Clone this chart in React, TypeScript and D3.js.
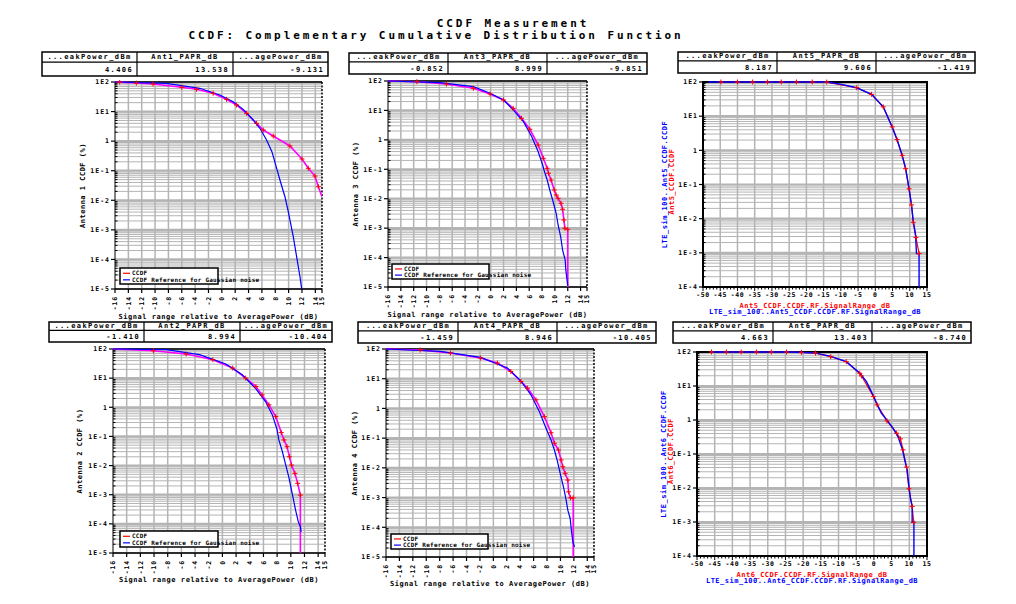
import * as d3 from 'd3';
import { ReactElement } from 'react';

// ─ Data ─────────────────────────────────────────────────────────────────────
// Measured CCDF (dB relative to average power, percent)
const ant1Db = [-16, -15.3, -12.8, -10.3, -6.0, -3.8, -1.3, 0.7, 2.2, 3.7, 5.2, 6.2, 7.7, 10.2, 12.0, 12.95, 13.95, 14.45, 15];
const ant1Pct = [100, 99, 92, 86, 66.2, 56.6, 41.5, 26.0, 16.7, 8.74, 4.0, 2.38, 1.49, 0.685, 0.249, 0.121, 0.066, 0.0288, 0.0132];
const ant3Db = [-16, -11.5, -6.9, -2.7, -0.1, 2.0, 3.5, 4.8, 6.1, 7.4, 8.2, 8.8, 9.0, 9.4, 9.9, 10.2, 10.5, 10.95, 11.2, 11.4, 11.55, 12.0, 12.0];
const ant3Pct = [100, 94.7, 79.1, 56.5, 36.1, 22.6, 11.8, 5.4, 2.29, 0.668, 0.236, 0.108, 0.0731, 0.0433, 0.0198, 0.0134, 0.0103, 0.00698, 0.00437, 0.00189, 0.00099, 0.00091, 0.00001];
const ant2Db = [-16, -10.1, -5.3, -1.4, 1.5, 3.4, 4.9, 5.8, 6.8, 7.8, 8.6, 9.0, 9.45, 9.8, 10.1, 10.6, 11.0, 11.4, 11.4];
const ant2Pct = [100, 87.4, 67.3, 42.8, 22.2, 10.0, 5.16, 2.67, 1.21, 0.48, 0.137, 0.0757, 0.0445, 0.0201, 0.0104, 0.0054, 0.00245, 0.00097, 0.00001];
const ant4Db = [-16, -10.9, -6.4, -1.9, 0.6, 2.6, 4.1, 5.1, 6.35, 7.6, 8.6, 9.1, 9.7, 10.1, 10.35, 10.7, 11.1, 11.2, 11.5, 11.9, 11.9];
const ant4Pct = [100, 92.5, 73.3, 49.6, 33.7, 17.5, 8.07, 4.83, 1.95, 0.531, 0.152, 0.0673, 0.0399, 0.0184, 0.0109, 0.00653, 0.00388, 0.00156, 0.00098, 0.00098, 0.00001];

// Gaussian noise reference curves
const ref1Db = [-16, -8.3, -3.3, -0.3, 1.7, 3.2, 4.7, 5.7, 6.7, 7.5, 8.0, 8.7, 9.45, 9.95, 10.7, 11.2, 11.7, 11.96];
const ref1Pct = [100, 90.3, 61.2, 36.3, 21.6, 11.9, 5.19, 2.72, 1.09, 0.44, 0.178, 0.0486, 0.0132, 0.00411, 0.00059, 0.000124, 0.000026, 0.00001];
const ref3Db = [-16, -7.9, -2.7, -0.1, 2.0, 3.5, 5.1, 6.4, 7.4, 8.1, 8.3, 8.8, 9.2, 9.65, 10.2, 10.5, 10.9, 11.2, 11.6, 11.7, 12.0];
const ref3Pct = [100, 87.5, 64, 38.2, 22.6, 10.4, 4.14, 1.28, 0.396, 0.14, 0.0946, 0.0433, 0.0198, 0.00906, 0.0032, 0.00128, 0.00051, 0.00018, 0.000083, 0.000038, 0.000011];
const ref2Db = [-16, -8.2, -3.35, 0.5, 2.9, 4.9, 6.3, 7.3, 8.0, 8.25, 8.7, 9.2, 9.7, 10.2, 10.7, 11.1, 11.4, 11.5];
const ref2Pct = [100, 94.6, 63.7, 30.5, 13.1, 4.31, 1.57, 0.548, 0.167, 0.0757, 0.0343, 0.0119, 0.00413, 0.00111, 0.000295, 0.000117, 0.00008, 0.000053];
const ref4Db = [-16, -7.9, -1.9, 2.1, 4.1, 5.6, 6.85, 7.85, 8.6, 9.1, 9.5, 9.85, 10.2, 10.5, 10.85, 11.1, 11.45, 11.6, 11.85, 12.1];
const ref4Pct = [100, 83, 52.1, 22.9, 8.51, 2.87, 0.783, 0.216, 0.0869, 0.0399, 0.0184, 0.00844, 0.00388, 0.00204, 0.00082, 0.000377, 0.000198, 0.000091, 0.000032, 0.000022];

// LTE simulation vs measurement (Ant5, Ant6)
const lte5Db = [-48.4, -14.1, -9.8, -5.4, -1.1, 2.3, 4.9, 6.3, 7.8, 8.8, 9.8, 10.5, 11.0, 11.65, 11.95, 12.7, 12.7];
const lte5Pct = [99.99, 99.5, 85.5, 67.9, 43.5, 18.8, 4.84, 2.07, 0.713, 0.29, 0.0748, 0.0253, 0.00874, 0.00355, 0.00095, 0.00095, 0.0001];
const mk5Db = [-44.8, -40.0, -35.6, -31.3, -27.3, -22.9, -18.3, -14.1, -5.4, -1.1, 2.3, 4.9, 6.3, 7.8, 8.8, 9.8, 10.5, 11.0, 11.8, 12.7];
const mk5Pct = [99.99, 99.99, 99.99, 99.99, 99.99, 99.99, 99.9, 99.5, 67.9, 43.5, 18.8, 4.84, 2.07, 0.713, 0.29, 0.0748, 0.0253, 0.0078, 0.0028, 0.00095];
const lte6Db = [-45.9, -23.8, -20.0, -16.3, -12.0, -7.8, -4.0, -2.1, -0.3, 1.2, 2.1, 4.0, 5.4, 6.8, 7.4, 8.1, 8.7, 9.4, 9.9, 10.3, 10.8, 10.8, 11.3, 11.3];
const lte6Pct = [99.99, 99.9, 97, 93, 72.8, 51.9, 23.7, 13.4, 5.47, 2.48, 1.58, 0.9, 0.575, 0.326, 0.213, 0.133, 0.0675, 0.0343, 0.0111, 0.00507, 0.00287, 0.00098, 0.00098, 0.0001];
const mk6Db = [-45.9, -41.7, -37.5, -33.2, -29.0, -24.7, -20.5, -16.5, -12.2, -7.8, -4.0, -3.5, -0.1, 0.9, 3.7, 6.4, 7.5, 8.2, 9.2, 9.9, 10.8, 11.25];
const mk6Pct = [99.99, 99.99, 99.99, 99.99, 99.99, 99.99, 97.5, 93, 72.8, 51.9, 23.7, 19.7, 4.87, 2.78, 0.94, 0.41, 0.279, 0.133, 0.0412, 0.0095, 0.00287, 0.00098];

// Ticks
const gaussXTicks = [-16, -14, -12, -10, -8, -6, -4, -2, 0, 2, 4, 6, 8, 10, 12, 14, 15];
const lteXTicks = [-50, -45, -40, -35, -30, -25, -20, -15, -10, -5, 0, 5, 10, 15];
const decades = [1e-5, 1e-4, 1e-3, 1e-2, 1e-1, 1, 10, 100];
const decadeLabels = ['1E-5', '1E-4', '1E-3', '1E-2', '1E-1', '1', '1E1', '1E2'];

// Tables
const tableHeaders = (ant: string) => ['...eakPower_dBm', `${ant}_PAPR_dB`, '...agePower_dBm'];
const ant1Stats = ['4.406', '13.538', '-9.131'];
const ant3Stats = ['-0.852', '8.999', '-9.851'];
const ant5Stats = ['8.187', '9.606', '-1.419'];
const ant2Stats = ['-1.410', '8.994', '-10.404'];
const ant4Stats = ['-1.459', '8.946', '-10.405'];
const ant6Stats = ['4.663', '13.403', '-8.740'];

// ─ Styles ───────────────────────────────────────────────────────────────────
const FONT = '"DejaVu Sans Mono", monospace';
const GRID = '#b4b4b4';
const BLUE = '#0000ff';
const RED = '#ff0000';
const MAGENTA = '#ff00ff';

interface Box { x: number; y: number; w: number; h: number; }
type Pt = [number, number];

const pairs = (a: number[], b: number[]): Pt[] => a.map((v, i) => [v, b[i]] as Pt);
const isDecade = (v: number) => Math.abs(Math.log10(v) - Math.round(Math.log10(v))) < 1e-6;

// ─ Table ────────────────────────────────────────────────────────────────────
const StatTable = ({ box, cols, headers, values }: { box: Box; cols: number[]; headers: string[]; values: string[] }): ReactElement => {
  const hh = box.h * 0.42;
  return (
    <g fontFamily={FONT} fontWeight="bold" fontSize={7} letterSpacing={1.4}>
      <rect x={box.x} y={box.y} width={box.w} height={box.h} fill="#fff" stroke="#000" strokeWidth={1.5} />
      <line x1={box.x} x2={box.x + box.w} y1={box.y + hh} y2={box.y + hh} stroke="#000" strokeWidth={1.2} />
      {cols.slice(1, -1).map(c => (
        <line key={c} x1={c} x2={c} y1={box.y} y2={box.y + box.h} stroke="#000" strokeWidth={1.2} />
      ))}
      {headers.map((h, i) => (
        <text key={h} x={(cols[i] + cols[i + 1]) / 2} y={box.y + hh - 2.8} textAnchor="middle">{h}</text>
      ))}
      {values.map((v, i) => (
        <text key={i} x={cols[i + 1] - 4} y={box.y + hh + (box.h - hh) / 2 + 2.6} textAnchor="end">{v}</text>
      ))}
    </g>
  );
};

// ─ Log grid shared ──────────────────────────────────────────────────────────
const LogGrid = ({ plot, y, minorTicks }: { plot: Box; y: d3.ScaleLogarithmic<number, number>; minorTicks: number[] }): ReactElement => (
  <g>
    {minorTicks.map((v, i) => (
      <line key={i} x1={plot.x} x2={plot.x + plot.w} y1={y(v)} y2={y(v)}
        stroke={GRID} strokeWidth={isDecade(v) ? 2.2 : 1} />
    ))}
  </g>
);

// ─ Gaussian comparison panel ────────────────────────────────────────────────
interface GaussPanelProps {
  id: string;
  table: Box; cols: number[]; headers: string[]; values: string[];
  plot: Box; legend: Box;
  measDb: number[]; measPct: number[]; refDb: number[]; refPct: number[];
  yLabel: string; yLabelX: number; xTitleY: number;
}

const GaussPanel = (p: GaussPanelProps): ReactElement => {
  const { plot, legend } = p;
  const x = d3.scaleLinear().domain([-16, 15]).range([plot.x, plot.x + plot.w]);
  const y = d3.scaleLog().domain([1e-5, 100]).range([plot.y + plot.h, plot.y]);
  const yTicks = y.ticks();
  const line = d3.line<Pt>().x(d => x(d[0])).y(d => y(d[1]));
  const meas = pairs(p.measDb, p.measPct);
  const ref = pairs(p.refDb, p.refPct);
  const bottom = plot.y + plot.h;
  const right = plot.x + plot.w;

  return (
    <g>
      <StatTable box={p.table} cols={p.cols} headers={p.headers} values={p.values} />
      <defs>
        <clipPath id={p.id}><rect x={plot.x} y={plot.y - 2} width={plot.w} height={plot.h + 4} /></clipPath>
      </defs>
      <rect x={plot.x} y={plot.y} width={plot.w} height={plot.h} fill="#fff" />
      <LogGrid plot={plot} y={y} minorTicks={yTicks} />
      {gaussXTicks.slice(1, -1).map(t => (
        <line key={t} x1={x(t)} x2={x(t)} y1={plot.y} y2={bottom} stroke={GRID} strokeWidth={1.5} />
      ))}
      {/* frame */}
      <line x1={plot.x} x2={right} y1={plot.y} y2={plot.y} stroke="#000" strokeWidth={1.5} />
      <line x1={plot.x} x2={plot.x} y1={plot.y} y2={bottom} stroke="#000" strokeWidth={1} />
      <line x1={right} x2={right} y1={plot.y} y2={bottom} stroke="#000" strokeWidth={1.5} strokeDasharray="2,1.5" />
      <line x1={plot.x} x2={right} y1={bottom} y2={bottom} stroke="#000" strokeWidth={1.5} />
      {yTicks.filter(v => !isDecade(v)).map((v, i) => (
        <line key={i} x1={plot.x} x2={plot.x + 2.5} y1={y(v)} y2={y(v)} stroke="#000" strokeWidth={1} />
      ))}
      {/* curves */}
      <g clipPath={`url(#${p.id})`}>
        <path d={line(meas) ?? ''} fill="none" stroke={MAGENTA} strokeWidth={1.6} />
        <path d={line(ref) ?? ''} fill="none" stroke={BLUE} strokeWidth={1.2} />
        {meas.slice(1, -1).map((d, i) => (
          <path key={i} d={`M${x(d[0]) - 2.5},${y(d[1])}h5M${x(d[0])},${y(d[1]) - 2.5}v5`} stroke={RED} strokeWidth={1} />
        ))}
      </g>
      {/* y axis */}
      <g fontFamily={FONT} fontWeight="bold" fontSize={6.5} letterSpacing={1}>
        {decades.map((d, i) => (
          <g key={d}>
            <line x1={plot.x - 4} x2={plot.x} y1={y(d)} y2={y(d)} stroke="#000" strokeWidth={1.2} />
            <text x={plot.x - 5} y={y(d)} dy="0.35em" textAnchor="end">{decadeLabels[i]}</text>
          </g>
        ))}
      </g>
      {/* x axis */}
      <g fontFamily={FONT} fontWeight="bold" fontSize={6.5} letterSpacing={0.8}>
        {gaussXTicks.map(t => (
          <g key={t}>
            <line x1={x(t)} x2={x(t)} y1={bottom} y2={bottom + 4} stroke="#000" strokeWidth={1.2} />
            <text transform={`translate(${x(t)},${bottom + 7}) rotate(-90)`} dy="0.35em" textAnchor="end">{t}</text>
          </g>
        ))}
      </g>
      <text x={plot.x + plot.w / 2} y={p.xTitleY} textAnchor="middle" fontFamily={FONT} fontWeight="bold"
        fontSize={7} letterSpacing={0.55}>Signal range relative to AveragePower (dB)</text>
      <text transform={`translate(${p.yLabelX},${plot.y + plot.h / 2}) rotate(-90)`} dy="0.35em" textAnchor="middle"
        fontFamily={FONT} fontWeight="bold" fontSize={7} letterSpacing={0.5}>{p.yLabel}</text>
      {/* legend */}
      <g fontFamily={FONT} fontWeight="bold" fontSize={6} letterSpacing={0.25}>
        <rect x={legend.x} y={legend.y} width={legend.w} height={legend.h} fill="#fff" stroke="#000" strokeWidth={1.5} />
        <line x1={legend.x + 3} x2={legend.x + 10} y1={legend.y + legend.h * 0.33} y2={legend.y + legend.h * 0.33} stroke={RED} strokeWidth={1.2} />
        <line x1={legend.x + 3} x2={legend.x + 10} y1={legend.y + legend.h * 0.74} y2={legend.y + legend.h * 0.74} stroke={BLUE} strokeWidth={1.2} />
        <text x={legend.x + 12} y={legend.y + legend.h * 0.33} dy="0.35em">CCDF</text>
        <text x={legend.x + 12} y={legend.y + legend.h * 0.74} dy="0.35em">CCDF Reference for Gaussian noise</text>
      </g>
    </g>
  );
};

// ─ LTE sim vs measurement panel ─────────────────────────────────────────────
interface LtePanelProps {
  id: string; ant: string;
  table: Box; cols: number[]; values: string[];
  plot: Box;
  lteDb: number[]; ltePct: number[]; mkDb: number[]; mkPct: number[];
  blueLabelX: number; redLabelX: number;
}

const LtePanel = (p: LtePanelProps): ReactElement => {
  const { plot } = p;
  const x = d3.scaleLinear().domain([-50, 15]).range([plot.x, plot.x + plot.w]);
  const y = d3.scaleLog().domain([1e-4, 100]).range([plot.y + plot.h, plot.y]);
  const yTicks = y.ticks();
  const line = d3.line<Pt>().x(d => x(d[0])).y(d => y(d[1]));
  const lte = pairs(p.lteDb, p.ltePct);
  const mk = pairs(p.mkDb, p.mkPct);
  const bottom = plot.y + plot.h;
  const minorX = d3.range(-50, 16, 1);

  return (
    <g>
      <StatTable box={p.table} cols={p.cols} headers={tableHeaders(p.ant)} values={p.values} />
      <defs>
        <clipPath id={p.id}><rect x={plot.x} y={plot.y - 3} width={plot.w} height={plot.h + 3} /></clipPath>
      </defs>
      <rect x={plot.x} y={plot.y} width={plot.w} height={plot.h} fill="#fff" />
      <LogGrid plot={plot} y={y} minorTicks={yTicks} />
      {lteXTicks.slice(1, -1).map(t => (
        <line key={t} x1={x(t)} x2={x(t)} y1={plot.y} y2={bottom} stroke={GRID} strokeWidth={1.5} />
      ))}
      <rect x={plot.x} y={plot.y} width={plot.w} height={plot.h} fill="none" stroke="#000" strokeWidth={2} />
      {yTicks.filter(v => !isDecade(v)).map((v, i) => (
        <line key={i} x1={plot.x} x2={plot.x + 2.5} y1={y(v)} y2={y(v)} stroke="#000" strokeWidth={1} />
      ))}
      {minorX.map(t => (
        <line key={t} x1={x(t)} x2={x(t)} y1={bottom} y2={bottom + (t % 5 === 0 ? 4 : 2.5)} stroke="#000" strokeWidth={1} />
      ))}
      <g clipPath={`url(#${p.id})`}>
        <path d={line(mk) ?? ''} fill="none" stroke={RED} strokeWidth={1.2} />
        <path d={line(lte) ?? ''} fill="none" stroke={BLUE} strokeWidth={1.4} />
        {mk.map((d, i) => (
          <path key={i} d={`M${x(d[0]) - 2.5},${y(d[1])}h5M${x(d[0])},${y(d[1]) - 2.5}v5`} stroke={RED} strokeWidth={1} />
        ))}
      </g>
      <g fontFamily={FONT} fontWeight="bold" fontSize={6.5} letterSpacing={1}>
        {decades.filter(d => d >= 1e-4).map(d => (
          <g key={d}>
            <line x1={plot.x - 4} x2={plot.x} y1={y(d)} y2={y(d)} stroke="#000" strokeWidth={1.2} />
            <text x={plot.x - 5} y={y(d)} dy="0.35em" textAnchor="end">{decadeLabels[decades.indexOf(d)]}</text>
          </g>
        ))}
        {lteXTicks.map(t => (
          <text key={t} x={x(t)} y={bottom + 10} textAnchor="middle" letterSpacing={0.6}>{t}</text>
        ))}
      </g>
      <g fontFamily={FONT} fontWeight="bold" fontSize={7} letterSpacing={0.5} textAnchor="middle">
        <text x={plot.x + plot.w / 2} y={bottom + 20.5} fill={RED}>{`${p.ant}_CCDF.CCDF.RF.SignalRange_dB`}</text>
        <text x={plot.x + plot.w / 2} y={bottom + 27} fill={BLUE}>{`LTE_sim_100..${p.ant}_CCDF.CCDF.RF.SignalRange_dB`}</text>
        <text transform={`translate(${p.blueLabelX},${plot.y + plot.h / 2}) rotate(-90)`} dy="0.35em" fill={BLUE}>{`LTE_sim_100..${p.ant}_CCDF.CCDF`}</text>
        <text transform={`translate(${p.redLabelX},${plot.y + plot.h / 2 - 3}) rotate(-90)`} dy="0.35em" fill={RED}>{`${p.ant}_CCDF.CCDF`}</text>
      </g>
    </g>
  );
};

// ─ App ──────────────────────────────────────────────────────────────────────
export default function App(): ReactElement {
  return (
    <svg width={1016} height={604} style={{ position: 'absolute', left: 0, top: 0, background: '#fff' }}>
      <rect width={1016} height={604} fill="#fff" />
      <g fontFamily={FONT} fontWeight="bold" fontSize={11} letterSpacing={2.9}>
        <text x={513} y={27} textAnchor="middle">CCDF Measurement</text>
        <text x={436} y={39} textAnchor="middle">CCDF: Complementary Cumulative Distribution Function</text>
      </g>

      <GaussPanel id="c1" table={{ x: 42, y: 52, w: 286, h: 24 }} cols={[42, 137, 233, 328]}
        headers={tableHeaders('Ant1')} values={ant1Stats}
        plot={{ x: 115, y: 82, w: 207, h: 207 }} legend={{ x: 120, y: 268, w: 98, h: 16 }}
        measDb={ant1Db} measPct={ant1Pct} refDb={ref1Db} refPct={ref1Pct}
        yLabel="Antenna 1 CCDF (%)" yLabelX={83} xTitleY={319} />

      <GaussPanel id="c2" table={{ x: 349, y: 53, w: 298, h: 21 }} cols={[349, 448, 547, 647]}
        headers={tableHeaders('Ant3')} values={ant3Stats}
        plot={{ x: 388, y: 81, w: 199, h: 206 }} legend={{ x: 392, y: 264, w: 97, h: 15 }}
        measDb={ant3Db} measPct={ant3Pct} refDb={ref3Db} refPct={ref3Pct}
        yLabel="Antenna 3 CCDF (%)" yLabelX={356} xTitleY={317} />

      <LtePanel id="c3" ant="Ant5" table={{ x: 678, y: 52, w: 297, h: 21 }} cols={[678, 777, 876, 975]}
        values={ant5Stats} plot={{ x: 703, y: 82, w: 224, h: 205 }}
        lteDb={lte5Db} ltePct={lte5Pct} mkDb={mk5Db} mkPct={mk5Pct}
        blueLabelX={665} redLabelX={672} />

      <GaussPanel id="c4" table={{ x: 49, y: 322, w: 283, h: 20 }} cols={[49, 144, 240, 332]}
        headers={tableHeaders('Ant2')} values={ant2Stats}
        plot={{ x: 113, y: 349, w: 212, h: 204 }} legend={{ x: 120, y: 531, w: 98, h: 16 }}
        measDb={ant2Db} measPct={ant2Pct} refDb={ref2Db} refPct={ref2Pct}
        yLabel="Antenna 2 CCDF (%)" yLabelX={80} xTitleY={582} />

      <GaussPanel id="c5" table={{ x: 358, y: 322, w: 298, h: 21 }} cols={[358, 458, 557, 656]}
        headers={tableHeaders('Ant4')} values={ant4Stats}
        plot={{ x: 386, y: 349, w: 208, h: 208 }} legend={{ x: 391, y: 534, w: 97, h: 15 }}
        measDb={ant4Db} measPct={ant4Pct} refDb={ref4Db} refPct={ref4Pct}
        yLabel="Antenna 4 CCDF (%)" yLabelX={355} xTitleY={586} />

      <LtePanel id="c6" ant="Ant6" table={{ x: 673, y: 322, w: 298, h: 21 }} cols={[673, 773, 872, 971]}
        values={ant6Stats} plot={{ x: 697, y: 352, w: 230, h: 204 }}
        lteDb={lte6Db} ltePct={lte6Pct} mkDb={mk6Db} mkPct={mk6Pct}
        blueLabelX={664} redLabelX={671} />
    </svg>
  );
}
